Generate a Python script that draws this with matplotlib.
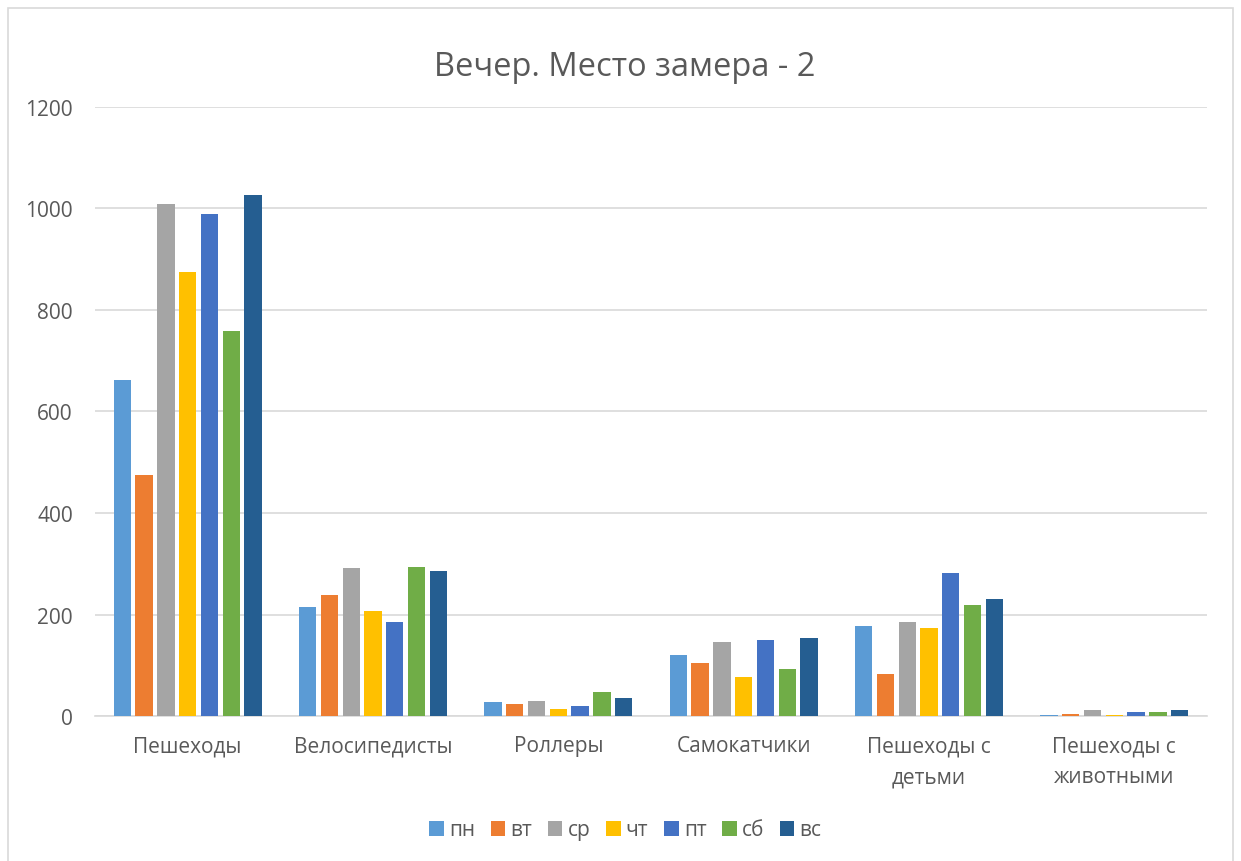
import matplotlib.pyplot as plt
import numpy as np
from matplotlib.patches import Rectangle

plt.rcParams["font.family"] = ["Open Sans", "DejaVu Sans"]

categories = ["Пешеходы", "Велосипедисты", "Роллеры", "Самокатчики",
              "Пешеходы с\nдетьми", "Пешеходы с\nживотными"]
days = ["пн", "вт", "ср", "чт", "пт", "сб", "вс"]

# counts per day for each category
pn = [662, 214, 27, 121, 177, 2]
vt = [474, 238, 23, 105, 82, 4]
sr = [1008, 291, 29, 146, 185, 11]
cht = [874, 206, 13, 77, 173, 2]
pt = [990, 185, 19, 149, 282, 7]
sb = [759, 294, 47, 92, 219, 8]
vs = [1027, 286, 35, 154, 230, 11]

series = [pn, vt, sr, cht, pt, sb, vs]
colors = ["#5B9BD5", "#ED7D31", "#A5A5A5", "#FFC000", "#4472C4", "#70AD47", "#255E91"]

text_color = "#595959"
grid_color = "#D9D9D9"

fig = plt.figure(figsize=(12.41, 8.62), dpi=100)
ax = fig.add_axes([95 / 1241, 1 - 717 / 862, (1207 - 95) / 1241, (717 - 108) / 862])

x = np.arange(len(categories))
pitch = 0.1177
bar_w = 0.0935
for i, (vals, col, d) in enumerate(zip(series, colors, days)):
    ax.bar(x + (i - 3) * pitch, vals, width=bar_w, color=col, label=d, zorder=3)

ax.set_xlim(-0.5, len(categories) - 0.5)
ax.set_ylim(0, 1200)
ax.set_yticks(range(0, 1201, 200))
ax.yaxis.grid(True, color=grid_color, linewidth=1.2, zorder=0)
ax.set_axisbelow(True)
for s in ["top", "right", "left"]:
    ax.spines[s].set_visible(False)
ax.spines["bottom"].set_color(grid_color)
ax.spines["bottom"].set_linewidth(1.2)
ax.tick_params(axis="both", length=0, colors=text_color, labelsize=15)
ax.tick_params(axis="y", pad=16)
ax.tick_params(axis="x", pad=14)
ax.set_xticks(x)
ax.set_xticklabels(categories, linespacing=1.6)

fig.text(0.503, 1 - 68 / 862, "Вечер. Место замера - 2", ha="center", va="center",
         fontsize=23.5, color=text_color)

# outer chart frame
fig.patches.append(Rectangle((8 / 1241, -0.05), (1233 - 8) / 1241, 1.05 - 9 / 862,
                             transform=fig.transFigure, fill=False,
                             edgecolor=grid_color, linewidth=1.2))

fig.legend(*ax.get_legend_handles_labels(), loc="center", ncol=7,
           bbox_to_anchor=(0.504, 1 - 831 / 862), frameon=False,
           fontsize=15, labelcolor=text_color, handlelength=0.7,
           handleheight=0.7, handletextpad=0.25, columnspacing=0.75)

fig.savefig("out.png", dpi=100)
